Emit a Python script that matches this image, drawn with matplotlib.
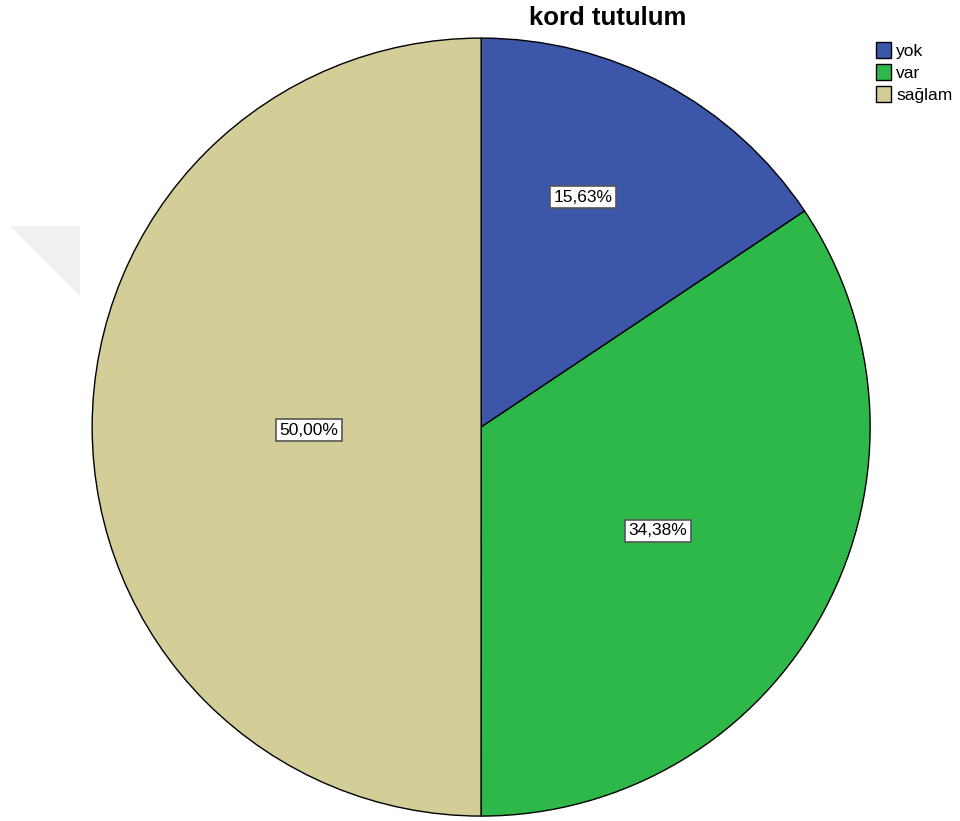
import matplotlib.pyplot as plt
from matplotlib.patches import Polygon

plt.rcParams['font.family'] = ['Liberation Sans', 'DejaVu Sans']

categories = ['yok', 'var', 'sağlam']
percentages = [15.63, 34.38, 50.00]
colors = ['#3c56a9', '#2fb84a', '#d3cd97']
# where the percentage boxes sit (data units, pie radius = 1)
label_pos = [(0.262, 0.591), (0.455, -0.267), (-0.442, -0.008)]

fig = plt.figure(figsize=(9.6, 8.21), dpi=100)
ax = fig.add_axes([0.096, 0.006, 0.8104, 0.9476])

wedges, texts = ax.pie(
    percentages, colors=colors, startangle=90, counterclock=False,
    wedgeprops=dict(edgecolor='black', linewidth=1))

for pct, (x, y) in zip(percentages, label_pos):
    ax.text(x, y, f'{pct:.2f}%'.replace('.', ','), ha='center', va='center',
            fontsize=12.5,
            bbox=dict(boxstyle='square,pad=0.2', facecolor='white',
                      edgecolor='#555555', linewidth=1.2))

ax.set_aspect('equal')
ax.set_xlim(-1.0, 1.0)
ax.set_ylim(-1.0, 1.0)

fig.text(0.633, 0.978, 'kord tutulum', ha='center', va='center', fontsize=18.5, fontweight='bold')

# faint watermark triangle at left
tri = Polygon([[0.01, 0.725], [0.083, 0.725], [0.083, 0.64]], closed=True,
              transform=fig.transFigure, facecolor='#f0f0f0', edgecolor='none', zorder=-1)
fig.patches.append(tri)

leg = fig.legend(wedges, categories, loc='upper left', bbox_to_anchor=(0.903, 0.959),
                 frameon=False, fontsize=12.5, handlelength=0.9, handleheight=1.0,
                 handletextpad=0.3, labelspacing=0.3, borderpad=0)

fig.savefig('out.png', dpi=100)
